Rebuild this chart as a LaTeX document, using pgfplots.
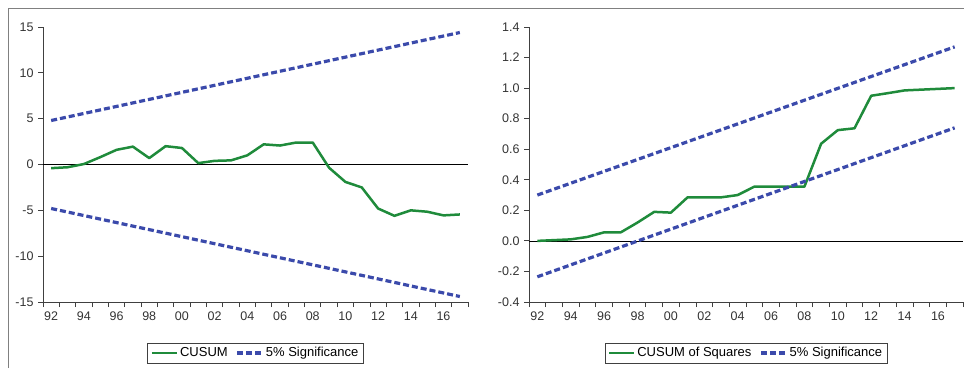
\documentclass[border=0pt]{standalone}
\usepackage{pgfplots}
\pgfplotsset{compat=1.18}
\usepackage{fontspec}
\setmainfont{Liberation Sans}
\definecolor{cgreen}{HTML}{1F8B3B}
\definecolor{cblue}{HTML}{3B4AAB}
\definecolor{axgray}{HTML}{404040}
\definecolor{txtgray}{HTML}{333333}

\pgfplotsset{
 evstyle/.style={
  scale only axis, anchor=south west,
  axis lines*=left,
  axis line style={axgray, line width=0.8pt},
  xmin=1991.5, xmax=2017.5,
  xtick={1991.5,1992.5,...,2017.5},
  x tick label as interval,
  xticklabels={92,,94,,96,,98,,00,,02,,04,,06,,08,,10,,12,,14,,16,},
  tick align=outside, major tick length=5pt,
  tick style={axgray, line width=0.8pt},
  ticklabel style={font=\fontsize{12.5}{14}\selectfont, text=txtgray},
  xticklabel style={yshift=-1pt},
  yticklabel style={xshift=-1pt},
  clip=false,
  legend image code/.code={\draw[##1] (0pt,0pt) -- (25pt,0pt);},
  legend style={at={(0.5,0)}, anchor=center, yshift=-51pt, draw=axgray,
    line width=0.6pt, legend columns=-1, font=\fontsize{13}{15}\selectfont,
    inner xsep=3pt, inner ysep=2.5pt,
    /tikz/every even column/.append style={column sep=6pt}},
  legend cell align=left,
 },
 cusum/.style={cgreen, line width=2.5pt, line join=round},
 sig/.style={cblue, line width=3.2pt, dash pattern=on 6pt off 3pt},
}

\begin{document}
\begin{tikzpicture}
\useasboundingbox (0,0) rectangle (964pt,368pt);
\draw[gray, line width=0.8pt] (8pt,0pt) -- (8pt,360pt) -- (964pt,360pt);

\begin{axis}[evstyle, at={(43pt,66pt)}, width=425pt, height=275pt,
  ymin=-15, ymax=15, ytick={-15,-10,-5,0,5,10,15},
  yticklabels={-15,-10,-5,0,5,10,15}]
\addplot[black, line width=0.6pt, forget plot] coordinates {(1991.5,0) (2017.5,0)};
\addplot[cusum] coordinates {
(1992,-0.4) (1993,-0.3) (1994,0.05) (1995,0.8) (1996,1.6) (1997,1.95)
(1998,0.7) (1999,2.0) (2000,1.8) (2001,0.15) (2002,0.4) (2003,0.45)
(2004,1.0) (2005,2.2) (2006,2.07) (2007,2.4) (2008,2.4) (2009,-0.35)
(2010,-1.9) (2011,-2.5) (2012,-4.8) (2013,-5.6) (2014,-5.0) (2015,-5.15)
(2016,-5.55) (2017,-5.45)};
\addlegendentry{CUSUM}
\addplot[sig] coordinates {(1992,4.8) (2017,14.4)};
\addlegendentry{5\% Significance}
\addplot[sig, forget plot] coordinates {(1992,-4.8) (2017,-14.4)};
\end{axis}

\begin{axis}[evstyle, at={(529pt,66pt)}, width=434pt, height=275pt,
  ymin=-0.4, ymax=1.4, ytick={-0.4,-0.2,0,0.2,0.4,0.6,0.8,1.0,1.2,1.4},
  yticklabels={-0.4,-0.2,0.0,0.2,0.4,0.6,0.8,1.0,1.2,1.4}]
\addplot[black, line width=0.6pt, forget plot] coordinates {(1991.5,0) (2017.5,0)};
\addplot[cusum] coordinates {
(1992,0.0) (1993,0.005) (1994,0.01) (1995,0.026) (1996,0.056) (1997,0.056)
(1998,0.12) (1999,0.19) (2000,0.185) (2001,0.285) (2002,0.285) (2003,0.285)
(2004,0.30) (2005,0.355) (2006,0.355) (2007,0.355) (2008,0.355) (2009,0.636)
(2010,0.725) (2011,0.737) (2012,0.95) (2013,0.967) (2014,0.985) (2015,0.99)
(2016,0.995) (2017,1.0)};
\addlegendentry{CUSUM of Squares}
\addplot[sig] coordinates {(1992,0.30) (2017,1.27)};
\addlegendentry{5\% Significance}
\addplot[sig, forget plot] coordinates {(1992,-0.235) (2017,0.74)};
\end{axis}
\end{tikzpicture}
\end{document}
